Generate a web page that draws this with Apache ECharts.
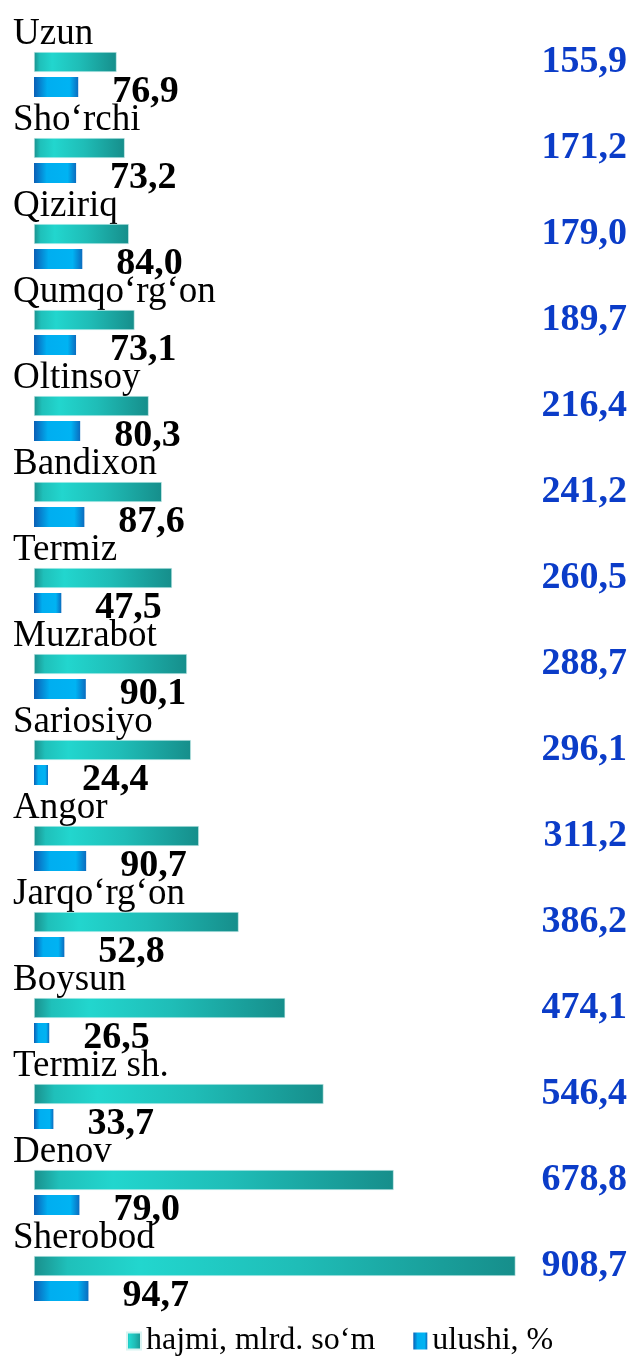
<!DOCTYPE html>
<html>
<head>
<meta charset="utf-8">
<script src="https://cdn.jsdelivr.net/npm/echarts@6/dist/echarts.min.js"></script>
<style>
  html, body { margin: 0; padding: 0; background: #fff; }
  #chart { width: 633px; height: 1356px; }
</style>
</head>
<body>
<div id="chart"></div>
<script>
// tumanlar
var districts = ['Uzun', 'Sho‘rchi', 'Qiziriq', 'Qumqo‘rg‘on', 'Oltinsoy', 'Bandixon', 'Termiz',
  'Muzrabot', 'Sariosiyo', 'Angor', 'Jarqo‘rg‘on', 'Boysun', 'Termiz sh.', 'Denov', 'Sherobod'];
// hajmi, mlrd. so'm
var hajmi = [155.9, 171.2, 179.0, 189.7, 216.4, 241.2, 260.5, 288.7, 296.1, 311.2, 386.2, 474.1, 546.4, 678.8, 908.7];
// ulushi, %
var ulushi = [76.9, 73.2, 84.0, 73.1, 80.3, 87.6, 47.5, 90.1, 24.4, 90.7, 52.8, 26.5, 33.7, 79.0, 94.7];

var seriesNames = ['hajmi, mlrd. so‘m', 'ulushi, %'];

function fmt(v) {
  return v.toFixed(1).replace('.', ',');
}

var serif = '"Liberation Serif", "Times New Roman", serif';

var tealGrad = new echarts.graphic.LinearGradient(0, 0, 1, 0, [
  { offset: 0, color: '#1a8f8c' },
  { offset: 0.07, color: '#1fc0ba' },
  { offset: 0.22, color: '#22d6ce' },
  { offset: 0.55, color: '#1fbdb7' },
  { offset: 1, color: '#168e8b' }
]);
var blueGrad = new echarts.graphic.LinearGradient(0, 0, 1, 0, [
  { offset: 0, color: '#0b5fb5' },
  { offset: 0.3, color: '#00aef0' },
  { offset: 0.8, color: '#00b3f3' },
  { offset: 1, color: '#0b6cbf' }
]);

var chart = echarts.init(document.getElementById('chart'));
chart.setOption({
  animation: false,
  backgroundColor: '#fff',
  grid: { left: 34, top: 31.5, width: 506, height: 1290 },
  legend: {
    bottom: -6,
    left: 121,
    itemWidth: 14,
    itemHeight: 17,
    itemGap: 38,
    textStyle: { fontFamily: serif, fontSize: 32, color: '#000' },
    data: [
      { name: seriesNames[0], icon: 'rect', itemStyle: { color: tealGrad } },
      { name: seriesNames[1], icon: 'rect', itemStyle: { color: blueGrad } }
    ]
  },
  xAxis: [
    { type: 'value', min: 0, max: 955, show: false },
    { type: 'value', min: 0, max: 880, show: false }
  ],
  yAxis: [
    {
      type: 'category',
      inverse: true,
      data: districts,
      axisLine: { show: false },
      axisTick: { show: false },
      axisLabel: {
        interval: 0,
        margin: 21,
        align: 'left',
        verticalAlign: 'bottom',
        padding: [0, 0, 22, 0],
        fontFamily: serif,
        fontSize: 37,
        color: '#000'
      }
    },
    {
      type: 'category',
      inverse: true,
      position: 'right',
      data: hajmi.map(fmt),
      axisLine: { show: false },
      axisTick: { show: false },
      axisLabel: {
        interval: 0,
        margin: 87,
        align: 'right',
        verticalAlign: 'bottom',
        lineHeight: 24,
        fontFamily: serif,
        fontSize: 38,
        fontWeight: 'bold',
        color: '#0b3cc8'
      }
    }
  ],
  series: [
    {
      name: seriesNames[0],
      type: 'bar',
      xAxisIndex: 0,
      yAxisIndex: 0,
      barWidth: 20,
      barGap: '25%',
      itemStyle: { color: tealGrad, borderColor: '#d8f4f2', borderWidth: 0.6 },
      data: hajmi
    },
    {
      name: seriesNames[1],
      type: 'bar',
      xAxisIndex: 1,
      yAxisIndex: 0,
      barWidth: 20,
      itemStyle: { color: blueGrad },
      label: {
        show: true,
        position: 'right',
        distance: 34,
        offset: [0, 5],
        formatter: function (p) { return fmt(p.value); },
        fontFamily: serif,
        fontSize: 38,
        fontWeight: 'bold',
        color: '#000'
      },
      data: ulushi
    }
  ]
});
</script>
</body>
</html>
